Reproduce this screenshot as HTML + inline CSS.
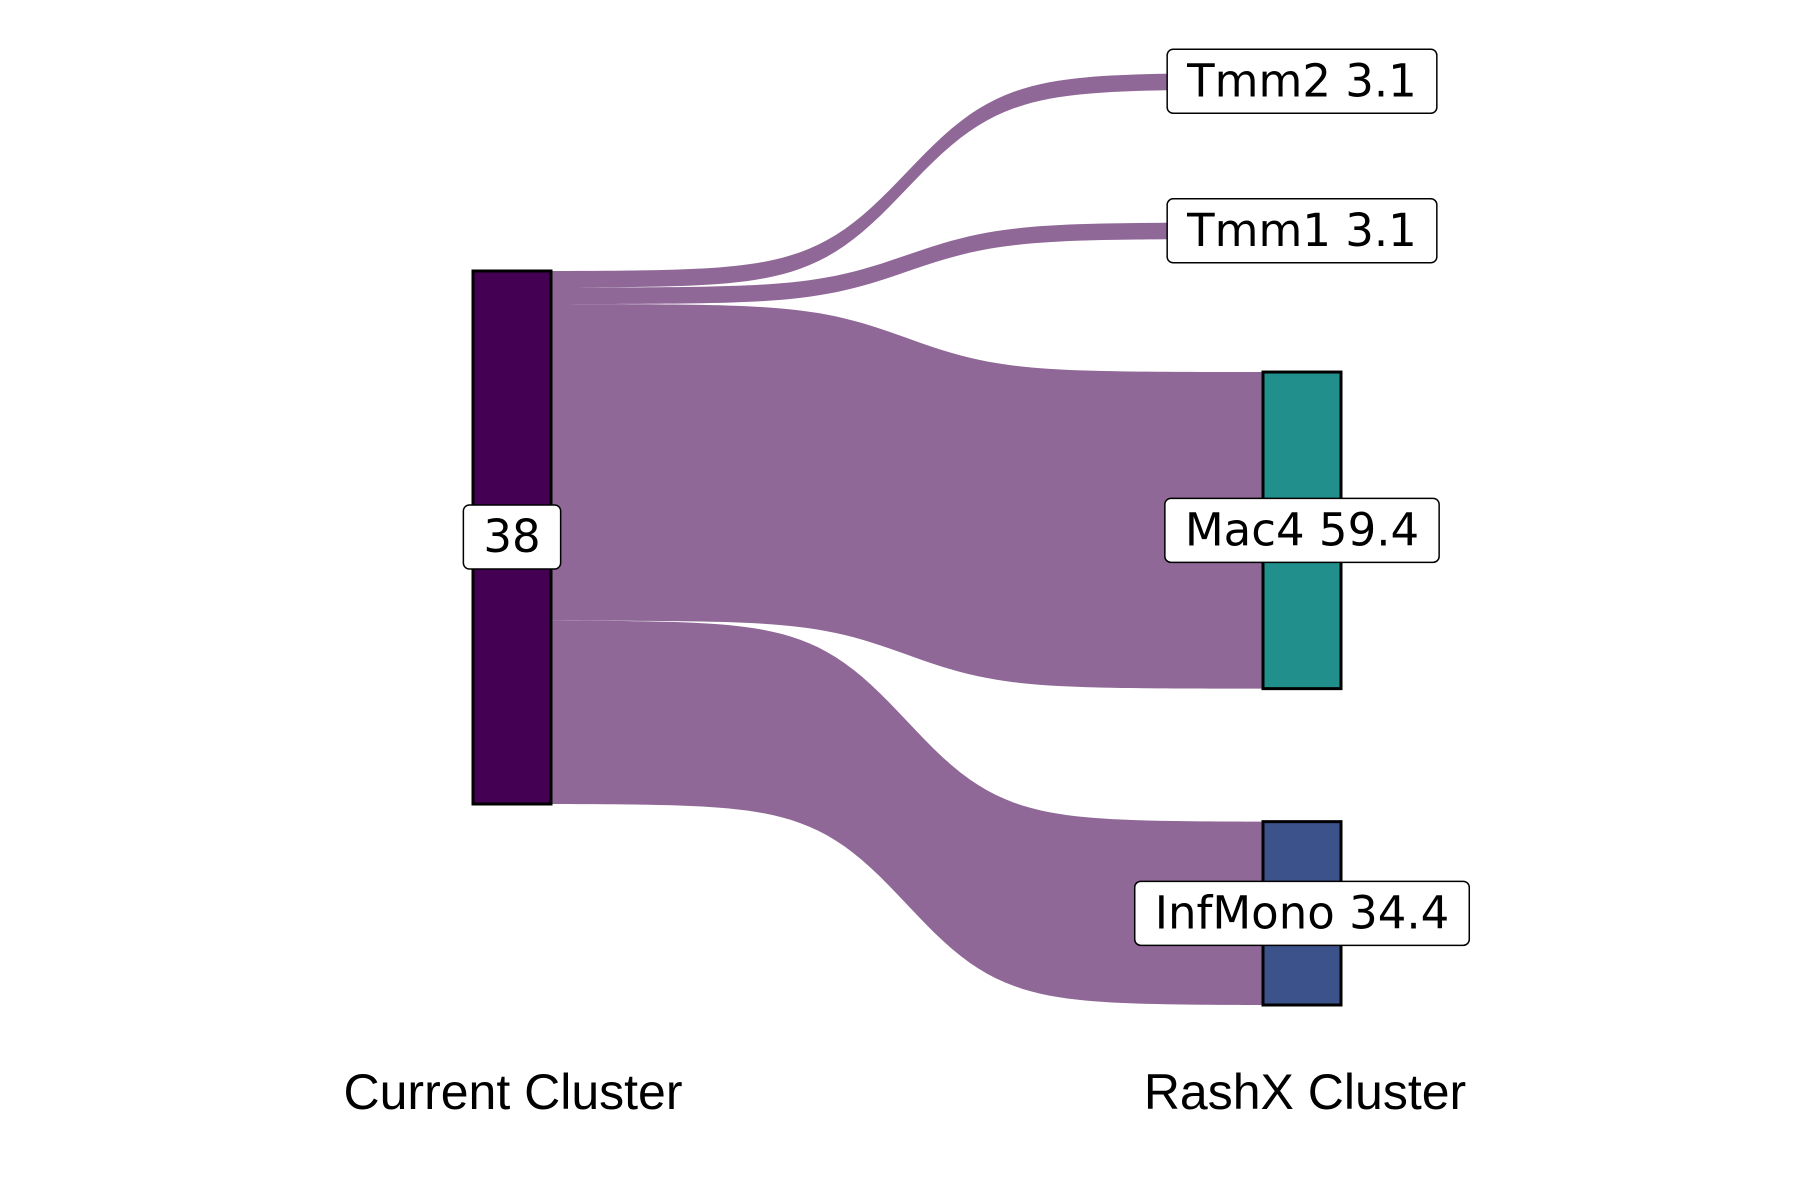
<!DOCTYPE html>
<html><head><meta charset="utf-8"><style>
html,body{margin:0;padding:0;background:#fff;}
svg{display:block;}
</style></head><body>
<svg id="chart" width="1800" height="1200" viewBox="0 0 1800 1200"></svg>
<script>
const sourceName = ["38"];
const targetNames = ["Tmm2", "Tmm1", "Mac4", "InfMono"];
const flowValues = [3.1, 3.1, 59.4, 34.4];
const targetLabels = ["Tmm2 3.1", "Tmm1 3.1", "Mac4 59.4", "InfMono 34.4"];
const targetColors = ["#440154", "#440154", "#21908d", "#3b528b"];
const axisLabels = ["Current Cluster", "RashX Cluster"];

const NS = "http://www.w3.org/2000/svg";
const svg = document.getElementById("chart");
function el(tag, attrs, parent) {
  const e = document.createElementNS(NS, tag);
  for (const k in attrs) e.setAttribute(k, attrs[k]);
  (parent || svg).appendChild(e);
  return e;
}
const total = flowValues.reduce((a, b) => a + b, 0);
const unit = 533 / total;
const xL0 = 473, xL1 = 551, xR0 = 1263, xR1 = 1341;
const leftTop = 271, rightTop = 73, gap = 133;
const K = 15;
function sig(t) {
  const f = x => 1 / (1 + Math.exp(-K * (x - 0.5)));
  return (f(t) - f(0)) / (f(1) - f(0));
}
function curve(y0, y1, forward) {
  const pts = [];
  const N = 80;
  for (let i = 0; i <= N; i++) {
    const t = forward ? i / N : 1 - i / N;
    pts.push((xL1 + (xR0 - xL1) * t).toFixed(2) + "," + (y0 + (y1 - y0) * sig(t)).toFixed(2));
  }
  return pts;
}
const flowG = el("g", {});


let ly = leftTop, ry = rightTop;
const rightPos = [];
flowValues.forEach((v, i) => {
  const h = v * unit;
  const top = curve(ly, ry, true);
  const bot = curve(ly + h, ry + h, false);
  const d = "M" + top.join(" L") + " L" + bot.join(" L") + " Z";
  const p = el("path", { d: d, fill: "#8f6897" }, flowG);
  
  
  rightPos.push([ry, h]);
  ly += h; ry += h + gap;
});
const ln = el("rect", { x: xL0, y: leftTop, width: xL1 - xL0, height: 533, fill: "#440154", stroke: "#000", "stroke-width": 3 });


rightPos.forEach((p, i) => {
  const r = el("rect", { x: xR0, y: p[0], width: xR1 - xR0, height: p[1], fill: targetColors[i], stroke: "#000", "stroke-width": 3 });
  
  
});
function label(txt, cx, cy, name) {
  const g = el("g", {});
  
  
  const t = el("text", { x: cx, y: cy + 15, "text-anchor": "middle", "font-size": 45, fill: "#000", style: "font-family:'DejaVu Sans',sans-serif" }, g);
  t.textContent = txt;
  const w = t.getComputedTextLength() + 40;
  const r = el("rect", { x: cx - w / 2, y: cy - 32, width: w, height: 64, rx: 6, fill: "#fff", stroke: "#000", "stroke-width": 1.5 });
  g.insertBefore(r, t);
}
label(sourceName[0], (xL0 + xL1) / 2, leftTop + 266, "source-label");
rightPos.forEach((p, i) => {
  label(targetLabels[i], (xR0 + xR1) / 2, p[0] + p[1] / 2, "target-label-" + targetNames[i].toLowerCase());
});
axisLabels.forEach((s, i) => {
  const t = el("text", { x: i === 0 ? 513 : 1305, y: 1109, "text-anchor": "middle", "font-size": 50, fill: "#000", style: "font-family:'Liberation Sans',sans-serif" });
  
  
  t.textContent = s;
});
</script>
</body></html>
